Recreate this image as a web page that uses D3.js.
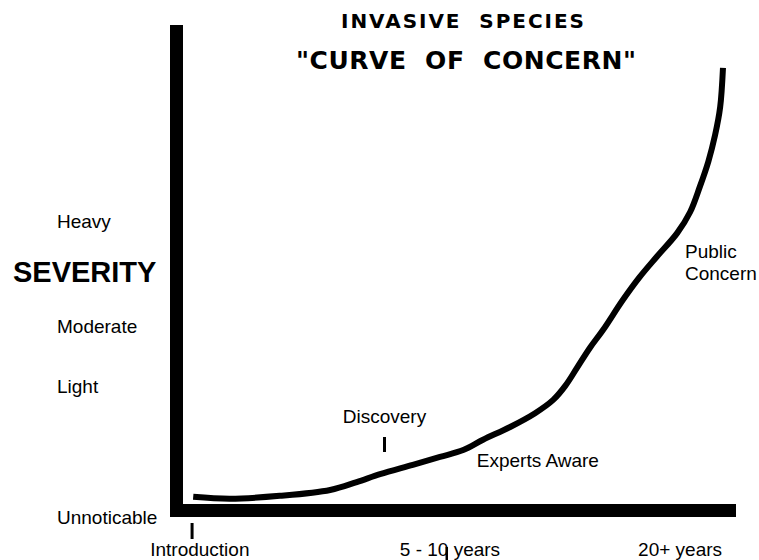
<!DOCTYPE html>
<html>
<head>
<meta charset="utf-8">
<script src="https://cdn.jsdelivr.net/npm/d3@7"></script>
<style>
  body { margin: 0; background: #fff; }
  text { font-family: "Liberation Sans", Arial, sans-serif; fill: #000; }
  .title { font-family: "DejaVu Sans", sans-serif; font-weight: bold; }
</style>
</head>
<body>
<svg width="759" height="560"></svg>
<script>
// curve of concern, time units 0..100, severity 0..100
var curveTime =     [4.1, 10.6, 19.4, 28.3, 33.0, 37.1, 42.9, 47.7, 51.8, 55.3, 60.1, 64.5, 67.7, 69.8, 71.9, 74.2, 76.5, 80.0, 83.0, 86.0, 89.6, 91.9, 93.6, 95.1, 96.3, 97.2, 97.7];
var curveSeverity = [4.1, 3.7, 4.3, 5.5, 7.1, 8.7, 10.6, 12.2, 13.6, 15.7, 18.3, 21.1, 23.8, 26.6, 30.3, 34.4, 38.0, 44.1, 48.8, 52.9, 57.7, 62.0, 67.1, 72.2, 77.6, 83.3, 91.3];

var severityLabels = ["Heavy", "Moderate", "Light", "Unnoticable"];
var severityValues = [58.7, 37.4, 25.2, -1.4];

var timeLabels = ["Introduction", "5 - 10 years", "20+ years"];
var timeStart = [-3.5, 40.6, 82.7];
var timeTicks = [3.9, 48.9];

var stageLabels = ["Discovery", "Experts Aware"];
var stageTime = [37.9, 54.2];
var stageSeverity = [19.1, 10.2];

var svg = d3.select("svg");

var x = d3.scaleLinear().domain([0, 100]).range([170, 736]);
var y = d3.scaleLinear().domain([0, 100]).range([517, 25]);

// axes drawn as heavy bars
svg.append("rect")
    .attr("x", x(0)).attr("y", y(100))
    .attr("width", 13).attr("height", y(0) - y(100))
    .attr("fill", "#000");
svg.append("rect")
    .attr("x", x(0)).attr("y", y(0) - 13)
    .attr("width", x(100) - x(0)).attr("height", 13)
    .attr("fill", "#000");

var line = d3.line()
    .x(function(d, i) { return x(curveTime[i]); })
    .y(function(d, i) { return y(d); })
    .curve(d3.curveCatmullRom);

svg.append("path")
    .attr("d", line(curveSeverity))
    .attr("fill", "none")
    .attr("stroke", "#000")
    .attr("stroke-width", 6);

// titles
svg.append("text").attr("class", "title")
    .attr("x", 341).attr("y", 28)
    .style("font-size", "20px")
    .attr("textLength", 243)
    .attr("xml:space", "preserve")
    .text("INVASIVE  SPECIES");
svg.append("text").attr("class", "title")
    .attr("x", 296).attr("y", 69)
    .style("font-size", "25px")
    .attr("textLength", 340)
    .attr("xml:space", "preserve")
    .text("\"CURVE  OF  CONCERN\"");

// y labels
svg.append("text")
    .attr("x", 13).attr("y", y(47.8))
    .style("font-size", "29px").style("font-weight", "bold")
    .text("SEVERITY");

svg.selectAll(".sev")
    .data(severityLabels)
    .enter().append("text")
    .attr("class", "sev")
    .attr("x", 57)
    .attr("y", function(d, i) { return y(severityValues[i]); })
    .style("font-size", "19px")
    .text(function(d) { return d; });

// time labels and ticks
svg.selectAll(".time")
    .data(timeLabels)
    .enter().append("text")
    .attr("class", "time")
    .attr("x", function(d, i) { return x(timeStart[i]); })
    .attr("y", 556)
    .style("font-size", "19px")
    .text(function(d) { return d; });

svg.append("line")
    .attr("x1", x(timeTicks[0])).attr("x2", x(timeTicks[0]))
    .attr("y1", 523).attr("y2", 539)
    .attr("stroke", "#000").attr("stroke-width", 3);
svg.append("line")
    .attr("x1", x(timeTicks[1])).attr("x2", x(timeTicks[1]))
    .attr("y1", 547).attr("y2", 560)
    .attr("stroke", "#000").attr("stroke-width", 2.5);

// stage annotations
svg.append("text")
    .attr("x", x(stageTime[0])).attr("y", y(stageSeverity[0]))
    .attr("text-anchor", "middle")
    .style("font-size", "19px")
    .text(stageLabels[0]);
svg.append("line")
    .attr("x1", x(stageTime[0])).attr("x2", x(stageTime[0]))
    .attr("y1", 437).attr("y2", 452)
    .attr("stroke", "#000").attr("stroke-width", 3);
svg.append("text")
    .attr("x", x(stageTime[1])).attr("y", y(stageSeverity[1]))
    .style("font-size", "19px")
    .text(stageLabels[1]);

svg.append("text")
    .attr("x", 685).attr("y", 258)
    .style("font-size", "19px")
    .text("Public");
svg.append("text")
    .attr("x", 685).attr("y", 280)
    .style("font-size", "19px")
    .text("Concern");
</script>
</body>
</html>
